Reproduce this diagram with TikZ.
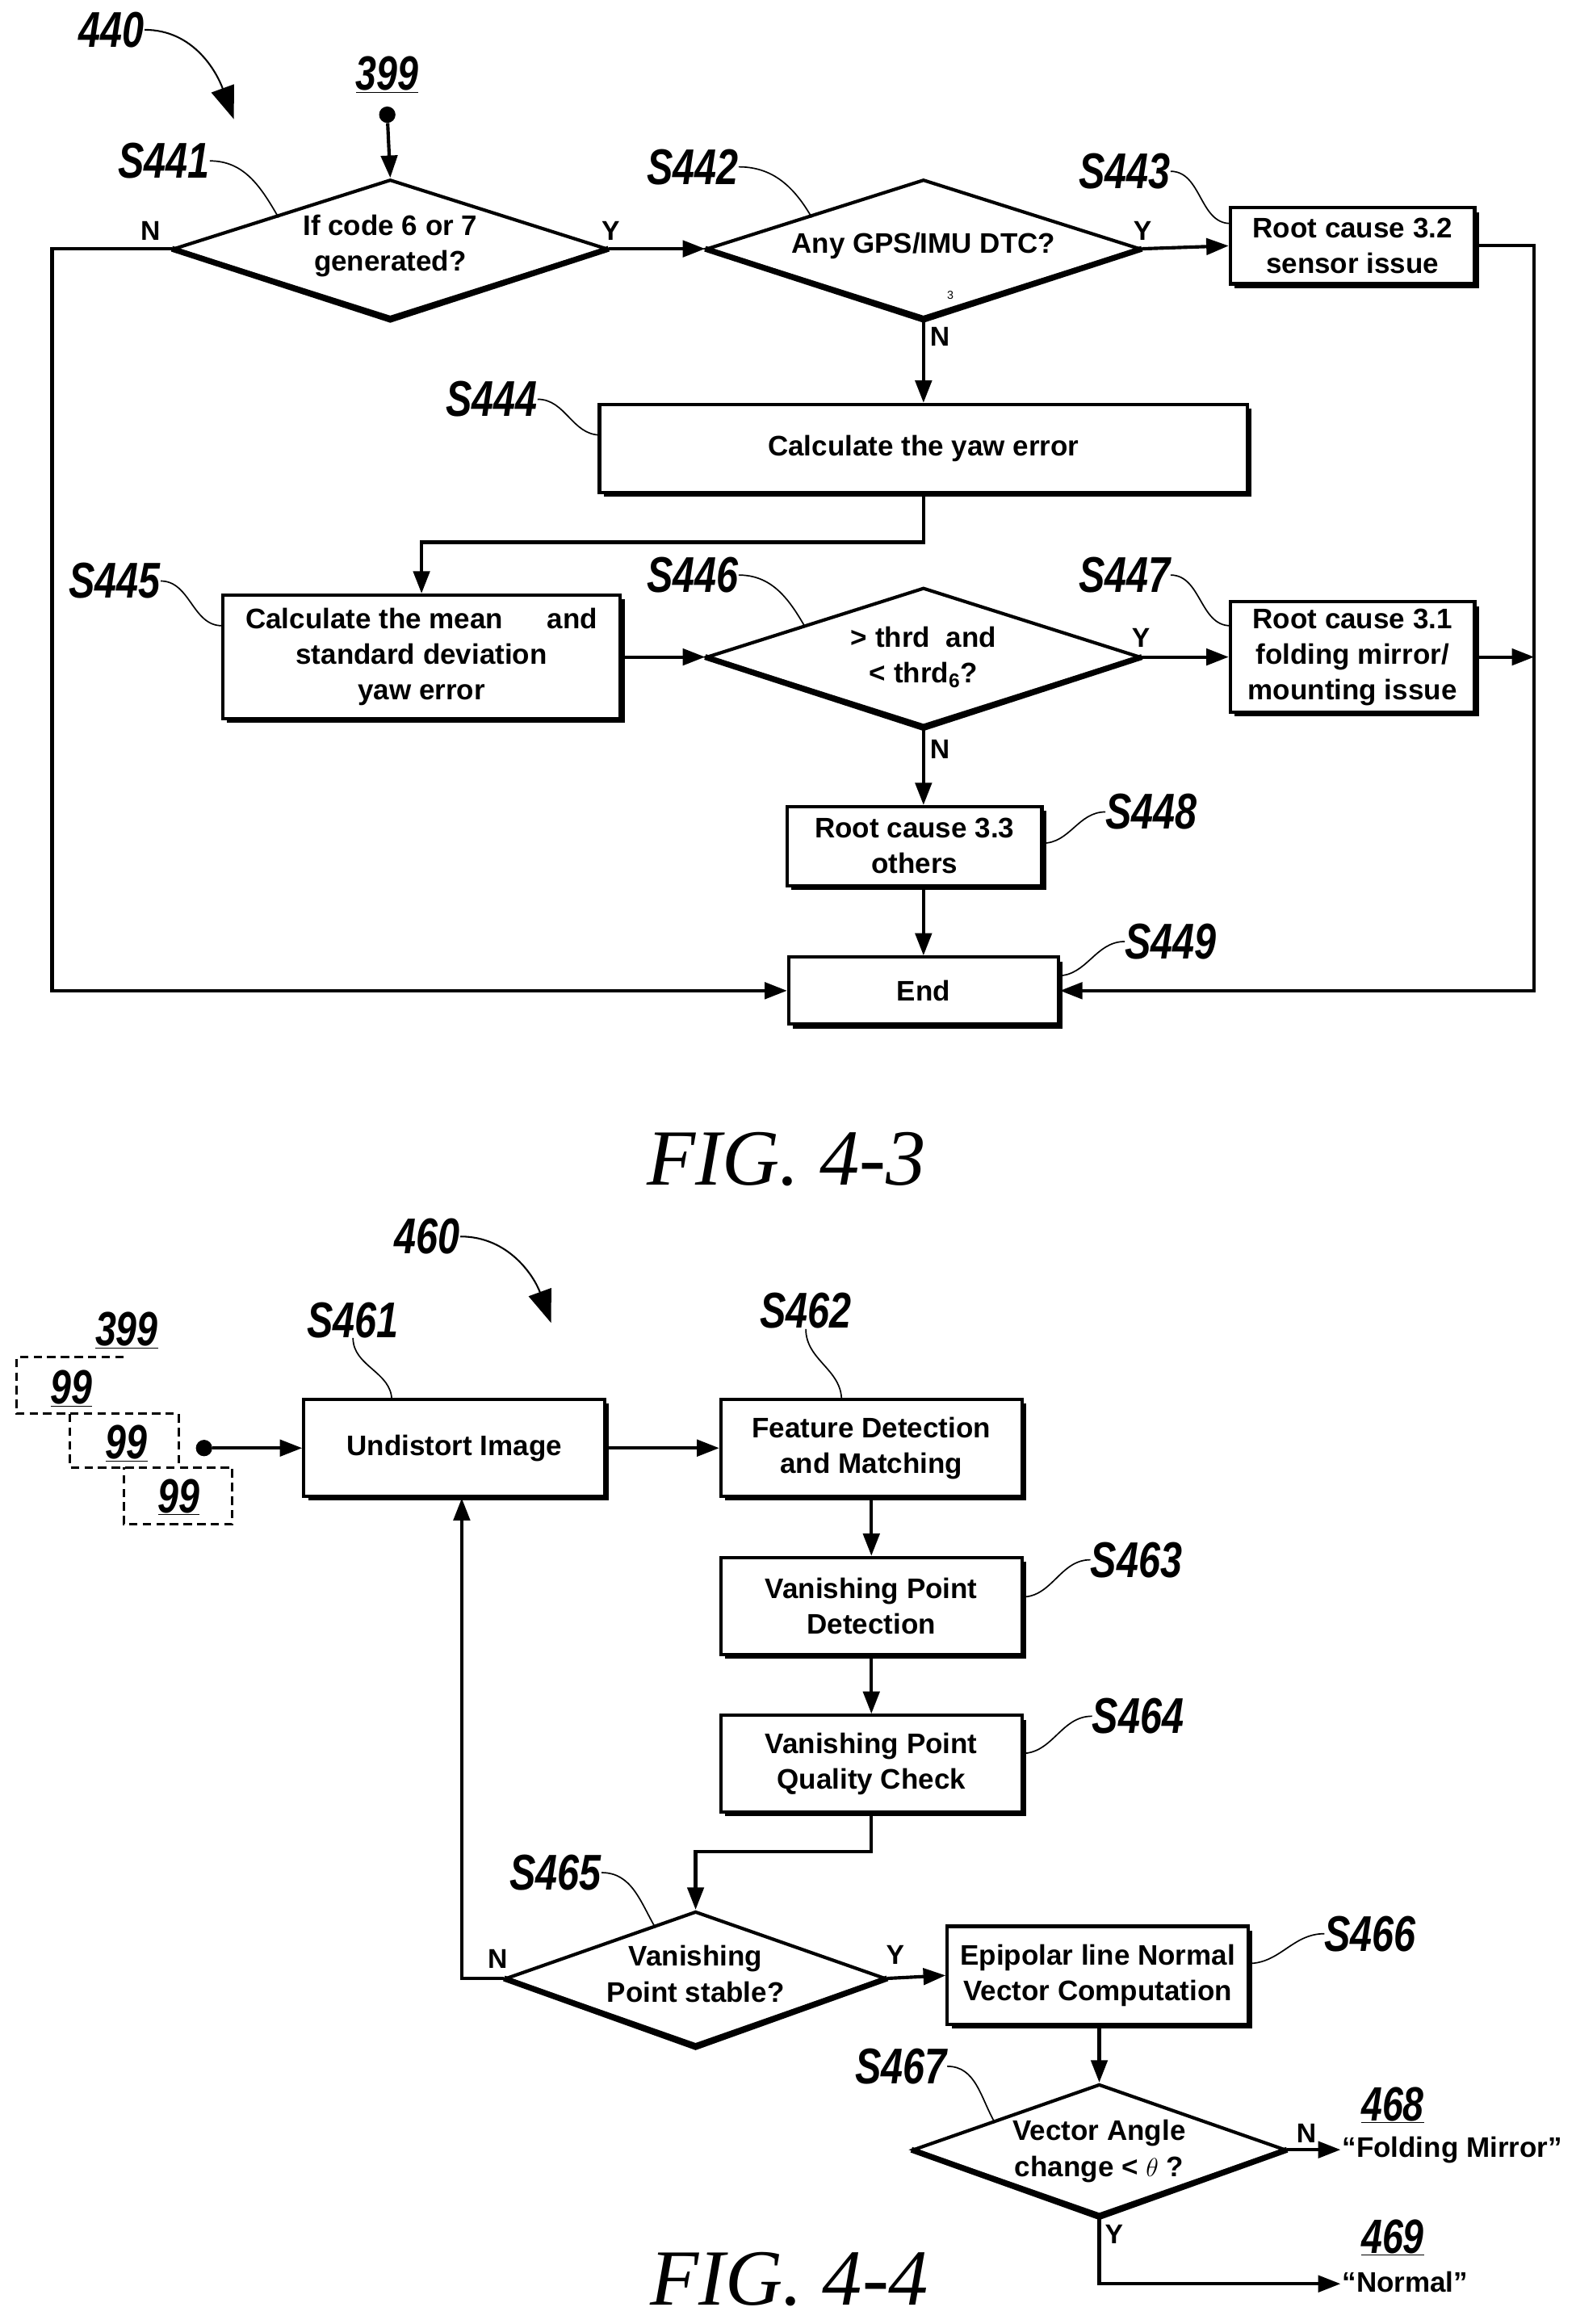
\documentclass[tikz,border=0pt]{standalone}
\usepackage{fontspec}
\setmainfont{Liberation Sans}
\newfontfamily\labf[FakeStretch=0.78]{Liberation Sans}
\newfontfamily\figf{Liberation Serif}
\usetikzlibrary{arrows.meta,shapes.geometric,shadows}
\begin{document}
\begin{tikzpicture}[x=0.05cm,y=-0.05cm,
  every node/.style={inner sep=0pt},
  box/.style={draw,fill=white,line width=3.2pt,align=center,font=\fontsize{27}{34}\selectfont\bfseries,
    drop shadow={shadow xshift=0.14cm,shadow yshift=-0.14cm,fill=black,opacity=1}},
  dia/.style={draw,diamond,line width=3.2pt,fill=white},
  txt/.style={align=center,font=\fontsize{27}{34}\selectfont\bfseries},
  yn/.style={font=\fontsize{26}{30}\selectfont\bfseries},
  lab/.style={font=\fontsize{48}{52}\selectfont\labf\itshape\bfseries},
  ref/.style={font=\fontsize{46}{50}\selectfont\labf\itshape\bfseries},
  fig/.style={font=\fontsize{76}{80}\selectfont\figf\itshape},
  ar/.style={line width=3.2pt,-{Triangle[length=0.75cm,width=0.55cm]}},
  ln/.style={line width=3.2pt},
  ld/.style={line width=1.3pt},
  big/.style={line width=1.6pt,-{Triangle[length=1.1cm,width=0.8cm]}},
  dsh/.style={line width=2.4pt,dash pattern=on 8pt off 5pt}]
\useasboundingbox (0,0) rectangle (1058,1560);
% ================= FIG 4-3 =================
\node[lab] (l440) at (75,20) {440};
\coordinate (a440) at (157,80);
\draw[big] (l440.east) to[out=0,in=110] (a440);
\node[ref] (r399) at (260,50) {\underline{399}};
\node[circle,fill=black,minimum size=0.55cm] (dot1) at (260,77) {};
\node[dia,minimum width=291*0.05cm,minimum height=93*0.05cm] (d441) at (262,167) {};
\node[txt] at (262,165) {If code 6 or 7\\generated?};
\node[dia,minimum width=291*0.05cm,minimum height=93*0.05cm] (d442) at (620,167) {};
\node[txt] at (620,165) {Any GPS/IMU DTC?};
\node[font=\fontsize{11}{12}\selectfont] at (638,198) {3};
\node[box,minimum width=164*0.05cm,minimum height=51*0.05cm] (b443) at (908,165) {Root cause 3.2\\sensor issue};
\node[box,minimum width=435*0.05cm,minimum height=59*0.05cm] (b444) at (620,301) {Calculate the yaw error};
\node[box,minimum width=267*0.05cm,minimum height=83*0.05cm] (b445) at (283,441) {Calculate the mean \quad\ and\\standard deviation\\yaw error};
\node[dia,minimum width=291*0.05cm,minimum height=93*0.05cm] (d446) at (620,441) {};
\node[txt] at (620,441) {> thrd\ \ and\\< thrd\textsubscript{6}?};
\node[box,minimum width=164*0.05cm,minimum height=74*0.05cm] (b447) at (908,441) {Root cause 3.1\\folding mirror/\\mounting issue};
\node[box,minimum width=171*0.05cm,minimum height=53*0.05cm] (b448) at (614,568) {Root cause 3.3\\others};
\node[box,minimum width=181*0.05cm,minimum height=45*0.05cm] (end) at (620,665) {End};
\foreach \d in {d441,d442,d446}{\draw[line width=5.5pt,line join=miter] (\d.west) -- (\d.south) -- (\d.east);}
% connectors
\draw[ar] (dot1) -- (d441.north);
\draw[ar] (d441.east) -- (d442.west);
\draw[ar] (d442.east) -- (b443.west);
\draw[ar] (d442.south) -- (b444.north);
\draw[ar] (b444.south) -- (620,364) -| (b445.north);
\draw[ar] (b445.east) -- (d446.west);
\draw[ar] (d446.east) -- (b447.west);
\draw[ar] (d446.south) -- (b448.north -| d446.south);
\draw[ar] (b448.south -| end.north) -- (end.north);
\draw[ar] (d441.west) -- (35,167) |- (end.west);
\draw[ar] (b443.east) -- (1030,165) |- (end.east);
\coordinate (j447) at (1030,441);
\draw[ar] (b447.east) -- (j447);
\node[yn] at (101,155) {N};
\node[yn] at (410,155) {Y};
\node[yn] at (767,155) {Y};
\node[yn] at (631,226) {N};
\node[yn] at (766,428) {Y};
\node[yn] at (631,503) {N};
% step labels
\node[lab] (s441) at (110,108) {S441};
\draw[ld] (s441.east) to[out=0,in=120] (187,146);
\node[lab] (s442) at (465,112) {S442};
\draw[ld] (s442.east) to[out=0,in=120] (545,146);
\node[lab] (s443) at (755,115) {S443};
\draw[ld] (s443.east) to[out=0,in=180] (826,150);
\node[lab] (s444) at (330,268) {S444};
\draw[ld] (s444.east) to[out=0,in=180] (403,292);
\node[lab] (s445) at (77,390) {S445};
\draw[ld] (s445.east) to[out=0,in=180] (149,420);
\node[lab] (s446) at (465,386) {S446};
\draw[ld] (s446.east) to[out=0,in=120] (540,420);
\node[lab] (s447) at (755,386) {S447};
\draw[ld] (s447.east) to[out=0,in=180] (826,420);
\node[lab] (s448) at (773,545) {S448};
\draw[ld] (s448.west) to[out=180,in=0] (700,566);
\node[lab] (s449) at (786,632) {S449};
\draw[ld] (s449.west) to[out=180,in=0] (710,655);
\node[fig] at (528,778) {FIG. 4-3};
% ================= FIG 4-4 =================
\node[lab] (l460) at (287,830) {460};
\coordinate (a460) at (370,888);
\draw[big] (l460.east) to[out=0,in=110] (a460);
\node[ref] at (85,893) {\underline{399}};
\draw[dsh] (83,911) -- (11,911) -- (11,949) -- (120,949) -- (120,985);
\draw[dsh] (47,949) -- (47,985) -- (156,985) -- (156,1023) -- (83,1023) -- (83,985);
\node[ref] at (48,932) {\underline{99}};
\node[ref] at (85,969) {\underline{99}};
\node[ref] at (120,1005) {\underline{99}};
\node[circle,fill=black,minimum size=0.55cm] (dot2) at (137,972) {};
\node[box,minimum width=202*0.05cm,minimum height=65*0.05cm] (b461) at (305,972) {Undistort Image};
\node[box,minimum width=202*0.05cm,minimum height=65*0.05cm] (b462) at (585,972) {Feature Detection\\and Matching};
\node[box,minimum width=202*0.05cm,minimum height=65*0.05cm] (b463) at (585,1078) {Vanishing Point\\Detection};
\node[box,minimum width=202*0.05cm,minimum height=65*0.05cm] (b464) at (585,1184) {Vanishing Point\\Quality Check};
\node[dia,minimum width=255*0.05cm,minimum height=90*0.05cm] (d465) at (467,1328) {};
\node[txt] at (467,1325) {Vanishing\\Point stable?};
\node[box,minimum width=202*0.05cm,minimum height=66*0.05cm] (b466) at (737,1326) {Epipolar line Normal\\Vector Computation};
\node[dia,minimum width=250*0.05cm,minimum height=88*0.05cm] (d467) at (738,1443) {};
\node[txt] at (738,1444) {Vector Angle\\change < $\theta$ ?};
\foreach \d in {d465,d467}{\draw[line width=5.5pt,line join=miter] (\d.west) -- (\d.south) -- (\d.east);}
\coordinate (o468) at (900,1443);
\coordinate (o469) at (900,1533);
\draw[ar] (dot2) -- (b461.west);
\draw[ar] (b461.east) -- (b462.west);
\draw[ar] (b462.south) -- (b463.north);
\draw[ar] (b463.south) -- (b464.north);
\draw[ar] (b464.south) -- (585,1243) -| (d465.north);
\draw[ar] (d465.west) -- (310,1328) -- (b461.south -| 310,0);
\draw[ar] (d465.east) -- (b466.west);
\draw[ar] (b466.south -| d467.north) -- (d467.north);
\draw[ar] (d467.east) -- (o468);
\draw[ar] (d467.south) |- (o469);
\node[yn] at (334,1315) {N};
\node[yn] at (601,1312) {Y};
\node[yn] at (877,1432) {N};
\node[yn] at (748,1500) {Y};
\node[ref] at (935,1413) {\underline{468}};
\node[anchor=west,txt] at (901,1443) {“Folding Mirror”};
\node[ref] at (935,1502) {\underline{469}};
\node[anchor=west,txt] at (901,1532) {“Normal”};
\node[lab] (s461) at (237,886) {S461};
\draw[ld] (s461.south) to[out=-90,in=90] (263,940);
\node[lab] (s462) at (541,880) {S462};
\draw[ld] (s462.south) to[out=-90,in=90] (565,940);
\node[lab] (s463) at (763,1047) {S463};
\draw[ld] (s463.west) to[out=180,in=0] (686,1072);
\node[lab] (s464) at (764,1152) {S464};
\draw[ld] (s464.west) to[out=180,in=0] (686,1177);
\node[lab] (s465) at (373,1257) {S465};
\draw[ld] (s465.east) to[out=0,in=120] (440,1294);
\node[lab] (s466) at (920,1298) {S466};
\draw[ld] (s466.west) to[out=180,in=0] (838,1318);
\node[lab] (s467) at (605,1387) {S467};
\draw[ld] (s467.east) to[out=0,in=120] (668,1425);
\node[fig] at (530,1530) {FIG. 4-4};
\end{tikzpicture}
\end{document}
